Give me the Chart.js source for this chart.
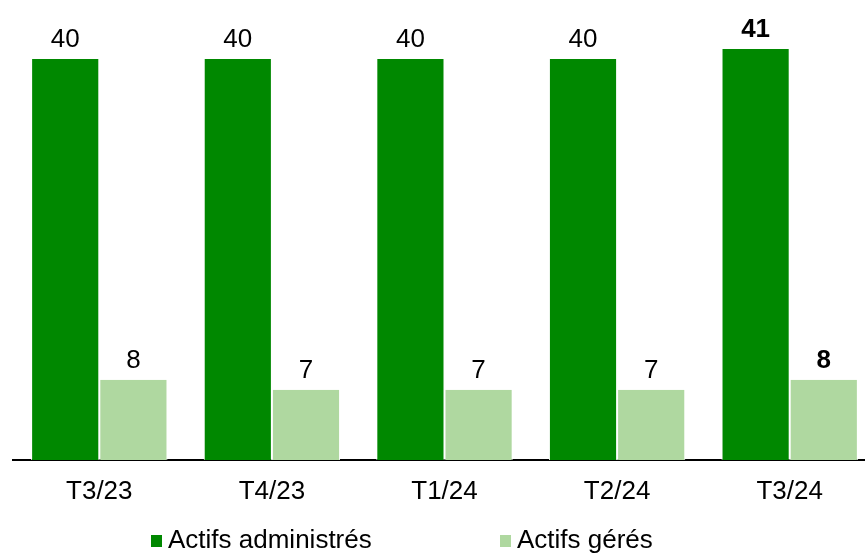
<!DOCTYPE html>
<html>
<head>
<meta charset="utf-8">
<script src="https://cdn.jsdelivr.net/npm/chart.js@4.4.1/dist/chart.umd.min.js"></script>
<style>
  html, body { margin: 0; padding: 0; background: #fff; overflow: hidden; }
  #wrap { width: 876px; height: 553px; position: relative; }
</style>
</head>
<body>
<div id="wrap"><canvas id="c"></canvas></div>
<script>
const categories = ["T3/23", "T4/23", "T1/24", "T2/24", "T3/24"];
const actifsAdministres = [40, 40, 40, 40, 41];
const actifsGeres = [8, 7, 7, 7, 8];
const seriesNames = ["Actifs administrés", "Actifs gérés"];
const colors = ["#008800", "#afd8a0"];
const FONT = "'Liberation Sans', Arial, sans-serif";

const valueLabels = {
  id: 'valueLabels',
  afterDatasetsDraw(chart) {
    const ctx = chart.ctx;
    ctx.save();
    ctx.fillStyle = '#000';
    ctx.textAlign = 'center';
    ctx.textBaseline = 'alphabetic';
    const last = categories.length - 1;
    chart.data.datasets.forEach((ds, di) => {
      const meta = chart.getDatasetMeta(di);
      meta.data.forEach((bar, i) => {
        ctx.font = (i === last ? 'bold ' : '') + '26px ' + FONT;
        ctx.fillText(String(ds.data[i]), bar.x, bar.y - 12);
      });
    });
    ctx.restore();
  }
};

const customLegend = {
  id: 'customLegend',
  afterDraw(chart) {
    const ctx = chart.ctx;
    ctx.save();
    ctx.font = '26px ' + FONT;
    ctx.textBaseline = 'alphabetic';
    ctx.textAlign = 'left';
    const starts = [151, 500];
    chart.data.datasets.forEach((ds, di) => {
      const x = starts[di];
      ctx.fillStyle = ds.backgroundColor;
      ctx.fillRect(x, 535, 11, 12);
      ctx.fillStyle = '#000';
      ctx.fillText(ds.label, x + 17, 548);
    });
    ctx.restore();
  }
};

new Chart(document.getElementById('c'), {
  type: 'bar',
  data: {
    labels: categories,
    datasets: [
      { label: seriesNames[0], data: actifsAdministres, backgroundColor: colors[0],
        borderColor: '#ffffff', borderWidth: {left: 1, right: 1, top: 0, bottom: 0}, borderSkipped: false },
      { label: seriesNames[1], data: actifsGeres, backgroundColor: colors[1],
        borderColor: '#ffffff', borderWidth: {left: 1, right: 1, top: 0, bottom: 0}, borderSkipped: false }
    ]
  },
  options: {
    responsive: true,
    maintainAspectRatio: false,
    animation: false,
    devicePixelRatio: 1,
    categoryPercentage: 0.79,
    barPercentage: 1.0,
    layout: { padding: { top: 9, left: 13, right: 0, bottom: 0 } },
    plugins: {
      legend: { display: false },
      tooltip: { enabled: false }
    },
    scales: {
      x: {
        grid: { display: false, drawTicks: false },
        border: { display: true, color: '#000', width: 2 },
        ticks: { color: '#000', font: { family: FONT, size: 26 }, padding: 16 },
        afterFit(scale) { scale.height = 93; }
      },
      y: {
        display: false,
        min: 0,
        max: 45
      }
    }
  },
  plugins: [valueLabels, customLegend]
});
</script>
</body>
</html>
